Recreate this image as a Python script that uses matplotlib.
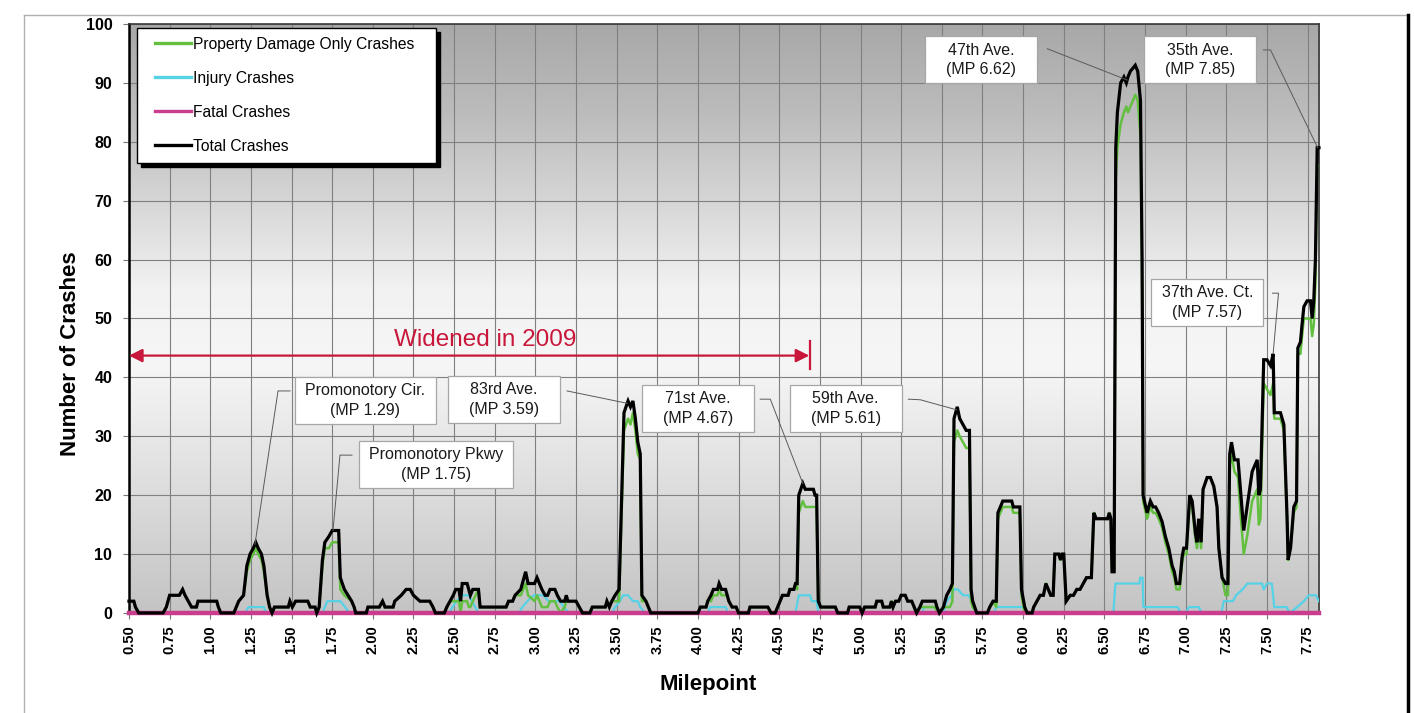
import numpy as np
import matplotlib.pyplot as plt
from matplotlib.colors import LinearSegmentedColormap
from matplotlib.legend_handler import HandlerLine2D
from matplotlib.lines import Line2D
from matplotlib.patches import Rectangle

plt.rcParams['font.family'] = ['Liberation Sans', 'DejaVu Sans']

# (milepoint, crashes)
total_pts = [
    (0.50, 2), (0.53, 2), (0.54, 1), (0.56, 0), (0.71, 0), (0.73, 1), (0.75, 3), (0.81, 3), (0.83, 4),
    (0.845, 3), (0.865, 2), (0.885, 1), (0.915, 1), (0.925, 2), (1.04, 2), (1.05, 1), (1.065, 0),
    (1.145, 0), (1.16, 1), (1.175, 2), (1.205, 3), (1.225, 8), (1.245, 10), (1.265, 11), (1.28, 12),
    (1.295, 11), (1.315, 10), (1.33, 8), (1.35, 3), (1.365, 1), (1.38, 0), (1.395, 1), (1.48, 1),
    (1.49, 2), (1.505, 1), (1.525, 2), (1.60, 2), (1.615, 1), (1.645, 1), (1.655, 0), (1.67, 1),
    (1.69, 9), (1.705, 12), (1.73, 13), (1.75, 14), (1.79, 14), (1.80, 6), (1.825, 4), (1.87, 2),
    (1.885, 1), (1.895, 0), (1.96, 0), (1.97, 1), (2.04, 1), (2.06, 2), (2.075, 1), (2.125, 1),
    (2.135, 2), (2.175, 3), (2.205, 4), (2.23, 4), (2.25, 3), (2.29, 2), (2.35, 2), (2.37, 1),
    (2.385, 0), (2.44, 0), (2.455, 1), (2.475, 2), (2.495, 3), (2.51, 4), (2.53, 4), (2.54, 2),
    (2.55, 5), (2.58, 5), (2.59, 4), (2.60, 3), (2.615, 4), (2.65, 4), (2.66, 1), (2.82, 1),
    (2.835, 2), (2.86, 2), (2.875, 3), (2.91, 4), (2.94, 7), (2.955, 5), (2.995, 5), (3.01, 6),
    (3.025, 5), (3.04, 4), (3.06, 3), (3.075, 3), (3.09, 4), (3.12, 4), (3.135, 3), (3.155, 2),
    (3.18, 2), (3.19, 3), (3.20, 2), (3.25, 2), (3.27, 1), (3.29, 0), (3.335, 0), (3.35, 1),
    (3.43, 1), (3.44, 2), (3.455, 1), (3.47, 2), (3.49, 3), (3.515, 4), (3.545, 34), (3.57, 36),
    (3.585, 35), (3.60, 36), (3.615, 33), (3.63, 29), (3.645, 27), (3.655, 3), (3.68, 2),
    (3.695, 1), (3.71, 0), (4.00, 0), (4.015, 1), (4.05, 1), (4.06, 2), (4.08, 3), (4.095, 4),
    (4.12, 4), (4.13, 5), (4.145, 4), (4.17, 4), (4.18, 3), (4.19, 2), (4.21, 1), (4.235, 1),
    (4.25, 0), (4.31, 0), (4.32, 1), (4.43, 1), (4.45, 0), (4.475, 0), (4.49, 1), (4.505, 2),
    (4.52, 3), (4.555, 3), (4.565, 4), (4.59, 4), (4.60, 5), (4.61, 5), (4.62, 20), (4.645, 22),
    (4.66, 21), (4.71, 21), (4.72, 20), (4.73, 20), (4.74, 2), (4.755, 1), (4.845, 1), (4.86, 0),
    (4.92, 0), (4.93, 1), (4.995, 1), (5.01, 0), (5.025, 1), (5.09, 1), (5.10, 2), (5.13, 2),
    (5.14, 1), (5.18, 1), (5.19, 2), (5.20, 1), (5.215, 2), (5.235, 2), (5.25, 3), (5.275, 3),
    (5.29, 2), (5.315, 2), (5.33, 1), (5.345, 0), (5.365, 1), (5.38, 2), (5.46, 2), (5.47, 1),
    (5.485, 0), (5.51, 1), (5.53, 3), (5.55, 4), (5.565, 5), (5.575, 33), (5.595, 35), (5.61, 33),
    (5.63, 32), (5.65, 31), (5.67, 31), (5.68, 4), (5.69, 2), (5.715, 0), (5.78, 0), (5.795, 1),
    (5.815, 2), (5.835, 2), (5.845, 17), (5.875, 19), (5.93, 19), (5.94, 18), (5.98, 18),
    (5.99, 4), (6.01, 1), (6.025, 0), (6.055, 0), (6.065, 1), (6.085, 2), (6.105, 3), (6.125, 3),
    (6.14, 5), (6.155, 4), (6.17, 3), (6.185, 3), (6.195, 10), (6.22, 10), (6.23, 9), (6.24, 10),
    (6.25, 10), (6.265, 2), (6.29, 3), (6.31, 3), (6.33, 4), (6.35, 4), (6.37, 5), (6.39, 6),
    (6.42, 6), (6.435, 17), (6.45, 16), (6.52, 16), (6.53, 17), (6.54, 16), (6.547, 7), (6.56, 7),
    (6.57, 79), (6.58, 85), (6.60, 90), (6.62, 91), (6.635, 90), (6.645, 91), (6.66, 92),
    (6.675, 92.5), (6.69, 93), (6.705, 92), (6.722, 87), (6.732, 60), (6.738, 20), (6.763, 17),
    (6.783, 19), (6.80, 18), (6.815, 18), (6.834, 17), (6.855, 15.5), (6.875, 13), (6.896, 11),
    (6.917, 8), (6.93, 7), (6.943, 5), (6.963, 5), (6.978, 9.5), (6.988, 11), (7.005, 11),
    (7.025, 20), (7.04, 19), (7.06, 13.5), (7.07, 12), (7.08, 16), (7.095, 12), (7.107, 21),
    (7.132, 23), (7.152, 23), (7.173, 21.5), (7.193, 18), (7.204, 11), (7.224, 6), (7.245, 5),
    (7.26, 5), (7.271, 27), (7.282, 29), (7.30, 26), (7.322, 26), (7.337, 21), (7.357, 14),
    (7.378, 18), (7.409, 24), (7.44, 26), (7.45, 20), (7.46, 21), (7.48, 43), (7.50, 43),
    (7.522, 42), (7.538, 44), (7.545, 34), (7.563, 34), (7.583, 34), (7.604, 32), (7.624, 16),
    (7.63, 9), (7.645, 11), (7.665, 18), (7.682, 19), (7.69, 45), (7.706, 46), (7.716, 49),
    (7.727, 52), (7.747, 53), (7.768, 53), (7.778, 50), (7.788, 53), (7.798, 60), (7.809, 79),
    (7.82, 79),
]

pdo_pts = [
    (0.50, 2), (0.53, 2), (0.54, 1), (0.56, 0), (0.71, 0), (0.73, 1), (0.75, 3), (0.81, 3), (0.83, 4),
    (0.845, 3), (0.865, 2), (0.885, 1), (0.915, 1), (0.925, 2), (1.04, 2), (1.05, 1), (1.065, 0),
    (1.145, 0), (1.16, 1), (1.175, 2), (1.205, 3), (1.225, 7), (1.245, 9), (1.265, 10), (1.28, 11),
    (1.295, 10), (1.315, 9), (1.33, 7), (1.35, 3), (1.365, 1), (1.38, 0), (1.395, 1), (1.48, 1),
    (1.49, 2), (1.505, 1), (1.525, 2), (1.60, 2), (1.615, 1), (1.645, 1), (1.655, 0), (1.67, 1),
    (1.69, 8), (1.705, 11), (1.73, 11), (1.75, 12), (1.79, 12), (1.80, 4), (1.825, 3), (1.87, 2),
    (1.885, 1), (1.895, 0), (1.96, 0), (1.97, 1), (2.04, 1), (2.06, 2), (2.075, 1), (2.125, 1),
    (2.135, 2), (2.175, 3), (2.205, 4), (2.23, 4), (2.25, 3), (2.29, 2), (2.35, 2), (2.37, 1),
    (2.385, 0), (2.44, 0), (2.455, 1), (2.475, 2), (2.495, 2), (2.51, 2), (2.53, 2), (2.54, 0),
    (2.55, 2), (2.58, 2), (2.59, 1), (2.60, 1), (2.615, 2), (2.65, 4), (2.66, 1), (2.82, 1),
    (2.835, 2), (2.86, 2), (2.875, 3), (2.91, 3), (2.94, 5), (2.955, 3), (2.995, 2), (3.01, 3),
    (3.025, 2), (3.04, 1), (3.06, 1), (3.075, 1), (3.09, 2), (3.12, 2), (3.135, 1), (3.155, 0),
    (3.18, 1), (3.19, 2), (3.20, 2), (3.25, 2), (3.27, 1), (3.29, 0), (3.335, 0), (3.35, 1),
    (3.43, 1), (3.44, 2), (3.455, 1), (3.47, 2), (3.49, 2), (3.515, 2), (3.545, 31), (3.57, 33),
    (3.585, 32), (3.60, 34), (3.615, 31), (3.63, 27), (3.645, 26), (3.655, 2), (3.68, 2),
    (3.695, 1), (3.71, 0), (4.00, 0), (4.015, 1), (4.05, 1), (4.06, 2), (4.08, 2), (4.095, 3),
    (4.12, 3), (4.13, 4), (4.145, 3), (4.17, 3), (4.18, 3), (4.19, 2), (4.21, 1), (4.235, 1),
    (4.25, 0), (4.31, 0), (4.32, 1), (4.43, 1), (4.45, 0), (4.475, 0), (4.49, 1), (4.505, 2),
    (4.52, 3), (4.555, 3), (4.565, 4), (4.59, 4), (4.60, 5), (4.61, 4), (4.62, 17), (4.645, 19),
    (4.66, 18), (4.71, 18), (4.72, 18), (4.73, 18), (4.74, 2), (4.755, 1), (4.845, 1), (4.86, 0),
    (4.92, 0), (4.93, 1), (4.995, 1), (5.01, 0), (5.025, 1), (5.09, 1), (5.10, 2), (5.13, 2),
    (5.14, 1), (5.18, 1), (5.19, 2), (5.20, 1), (5.215, 2), (5.235, 2), (5.25, 3), (5.275, 3),
    (5.29, 2), (5.315, 2), (5.33, 1), (5.345, 0), (5.365, 1), (5.38, 1), (5.46, 1), (5.47, 0),
    (5.485, 0), (5.51, 1), (5.53, 1), (5.55, 1), (5.565, 2), (5.575, 29), (5.595, 31), (5.61, 30),
    (5.63, 29), (5.65, 28), (5.67, 28), (5.68, 2), (5.69, 1), (5.715, 0), (5.78, 0), (5.795, 1),
    (5.815, 2), (5.835, 1), (5.845, 16), (5.875, 18), (5.93, 18), (5.94, 17), (5.98, 17),
    (5.99, 3), (6.01, 0), (6.025, 0), (6.055, 0), (6.065, 1), (6.085, 2), (6.105, 3), (6.125, 3),
    (6.14, 5), (6.155, 4), (6.17, 3), (6.185, 3), (6.195, 10), (6.22, 10), (6.23, 9), (6.24, 10),
    (6.25, 10), (6.265, 2), (6.29, 3), (6.31, 3), (6.33, 4), (6.35, 4), (6.37, 5), (6.39, 6),
    (6.42, 6), (6.435, 17), (6.45, 16), (6.52, 16), (6.53, 17), (6.54, 16), (6.547, 7), (6.56, 7),
    (6.57, 74), (6.58, 79), (6.60, 83), (6.62, 85), (6.635, 86), (6.645, 85), (6.66, 86),
    (6.675, 87), (6.69, 88), (6.705, 87), (6.722, 81), (6.732, 55), (6.738, 19), (6.763, 16),
    (6.783, 18), (6.80, 17), (6.815, 17), (6.834, 16), (6.855, 14.5), (6.875, 12), (6.896, 10),
    (6.917, 7), (6.93, 6), (6.943, 4), (6.963, 4), (6.978, 8.5), (6.988, 10), (7.005, 10),
    (7.025, 19), (7.04, 18), (7.06, 12.5), (7.07, 11), (7.08, 15), (7.095, 11), (7.107, 21),
    (7.132, 23), (7.152, 23), (7.173, 21.5), (7.193, 18), (7.204, 11), (7.224, 6), (7.245, 3),
    (7.26, 3), (7.271, 25), (7.282, 27), (7.30, 24), (7.322, 23), (7.337, 17), (7.357, 10),
    (7.378, 13), (7.409, 19), (7.44, 21), (7.45, 15), (7.46, 16), (7.48, 39), (7.50, 38),
    (7.522, 37), (7.538, 39), (7.545, 33), (7.563, 33), (7.583, 33), (7.604, 31), (7.624, 15),
    (7.63, 9), (7.645, 11), (7.665, 17), (7.682, 18), (7.69, 44), (7.706, 44), (7.716, 47),
    (7.727, 50), (7.747, 50), (7.768, 50), (7.778, 47), (7.788, 49), (7.798, 56), (7.809, 76),
    (7.82, 76),
]

injury_pts = [
    (0.50, 0), (1.215, 0), (1.235, 1), (1.33, 1), (1.345, 0), (1.69, 0), (1.705, 1), (1.72, 2),
    (1.80, 2), (1.83, 1), (1.855, 0), (2.47, 0), (2.49, 1), (2.515, 2), (2.55, 3), (2.59, 3),
    (2.61, 2), (2.63, 1), (2.65, 0), (2.90, 0), (2.92, 1), (2.95, 2), (2.99, 3), (3.05, 3),
    (3.08, 2), (3.15, 2), (3.175, 1), (3.205, 0), (3.47, 0), (3.49, 1), (3.52, 2), (3.54, 3),
    (3.57, 3), (3.60, 2), (3.63, 2), (3.645, 1), (3.675, 0), (4.06, 0), (4.075, 1), (4.17, 1),
    (4.185, 0), (4.60, 0), (4.62, 3), (4.69, 3), (4.70, 2), (4.73, 2), (4.74, 0), (5.38, 0),
    (5.39, 1), (5.47, 1), (5.48, 0), (5.51, 0), (5.53, 2), (5.56, 3), (5.575, 4), (5.60, 4),
    (5.63, 3), (5.665, 3), (5.685, 2), (5.70, 1), (5.72, 0), (5.82, 0), (5.835, 1), (6.00, 1),
    (6.015, 0), (6.555, 0), (6.568, 5), (6.715, 5), (6.72, 6), (6.735, 6), (6.74, 1), (6.95, 1),
    (6.97, 0), (7.00, 0), (7.02, 1), (7.08, 1), (7.10, 0), (7.22, 0), (7.234, 2), (7.29, 2),
    (7.31, 3), (7.35, 4), (7.38, 5), (7.47, 5), (7.48, 4), (7.50, 5), (7.53, 5), (7.545, 1),
    (7.62, 1), (7.64, 0), (7.686, 1), (7.727, 2), (7.757, 3), (7.80, 3), (7.82, 2),
]

fatal_pts = [(0.50, 0), (7.82, 0)]

total_mp, total_n = map(np.array, zip(*total_pts))
pdo_mp, pdo_n = map(np.array, zip(*pdo_pts))
injury_mp, injury_n = map(np.array, zip(*injury_pts))
fatal_mp, fatal_n = map(np.array, zip(*fatal_pts))

x_ticks = [0.50 + 0.25 * i for i in range(30)]
y_ticks = list(range(0, 101, 10))

# label text, box centre (mp, crashes), leader points, milepoint the leader ends on
callouts = [
    ("Promonotory Cir.\n(MP 1.29)", (1.955, 36.1), [(1.491, 37.7), (1.417, 37.7)], 1.275),
    ("Promonotory Pkwy\n(MP 1.75)", (2.389, 25.2), [(1.872, 26.8), (1.798, 26.8)], 1.755),
    ("83rd Ave.\n(MP 3.59)", (2.808, 36.2), [(3.195, 37.7)], 3.565),
    ("71st Ave.\n(MP 4.67)", (3.998, 34.7), [(4.383, 36.3), (4.445, 36.3)], 4.645),
    ("59th Ave.\n(MP 5.61)", (4.909, 34.7), [(5.294, 36.3), (5.368, 36.2)], 5.590),
    ("47th Ave.\n(MP 6.62)", (5.740, 93.9), [(6.149, 95.8)], 6.640),
    ("35th Ave.\n(MP 7.85)", (7.087, 93.9), [(7.478, 95.6), (7.522, 95.6)], 7.812),
    ("37th Ave. Ct.\n(MP 7.57)", (7.134, 52.7), [(7.534, 54.3), (7.571, 54.3)], 7.538),
]

widened_start, widened_end, widened_level = 0.50, 4.69, 43.7

fig = plt.figure(figsize=(14.14, 7.13), dpi=100)
ax = fig.add_axes([0.0912, 0.1403, 0.8416, 0.8260])

# gradient plot-area background
bg = LinearSegmentedColormap.from_list('bg', [
    (0.00, '#c4c4c4'), (0.12, '#d2d2d2'), (0.25, '#e2e2e2'), (0.42, '#f6f6f6'),
    (0.55, '#f2f2f2'), (0.70, '#d6d6d6'), (0.85, '#bcbcbc'), (1.00, '#a8a8a8')])
ax.imshow(np.linspace(0, 1, 256).reshape(-1, 1), extent=[0.5, 7.82, 0, 100], origin='lower',
          aspect='auto', cmap=bg, zorder=0, interpolation='bicubic')

ax.plot(injury_mp, injury_n, color='#55d2e6', lw=1.6, zorder=3, label='Injury Crashes')
ax.plot(pdo_mp, pdo_n, color='#62bf3f', lw=1.8, zorder=4, label='Property Damage Only Crashes')
ax.plot(fatal_mp, fatal_n, color='#c93c8e', lw=3.2, zorder=5, clip_on=False, label='Fatal Crashes')
ax.plot(total_mp, total_n, color='black', lw=2.3, zorder=6, clip_on=False,
        solid_joinstyle='miter', label='Total Crashes')

ax.set_xlim(0.5, 7.82)
ax.set_ylim(0, 100)
ax.set_xticks(x_ticks)
ax.set_xticklabels([f"{t:.2f}" for t in x_ticks], rotation=90, fontsize=10.5, fontweight='bold')
ax.set_yticks(y_ticks)
ax.set_yticklabels([str(t) for t in y_ticks], fontsize=11.5, fontweight='bold')
ax.tick_params(axis='both', length=4, color='#777777', pad=5)
ax.tick_params(axis='y', pad=8)
ax.grid(True, color='#808080', lw=0.8)
for side in ['top', 'right', 'bottom']:
    ax.spines[side].set_color('#3a3a3a')
    ax.spines[side].set_linewidth(1.2)
ax.spines['left'].set_linewidth(1.8)

ax.set_xlabel('Milepoint', fontsize=16, fontweight='bold')
ax.xaxis.set_label_coords(0.487, -0.104)
ax.set_ylabel('Number of Crashes', fontsize=16, fontweight='bold')
ax.yaxis.set_label_coords(-0.040, 0.44)

# legend in the reference order
h, l = ax.get_legend_handles_labels()
order = ['Property Damage Only Crashes', 'Injury Crashes', 'Fatal Crashes', 'Total Crashes']
hs = [h[l.index(name)] for name in order]
leg_handles = [Line2D([], [], color=x.get_color(), lw=2.4) for x in hs]
leg_labels = [order[0] + '   '] + order[1:]
leg = ax.legend(leg_handles, leg_labels, loc='upper left', bbox_to_anchor=(0.0067, 0.993),
                fontsize=11.25, frameon=True, fancybox=False, framealpha=1, edgecolor='black',
                borderpad=0.55, labelspacing=1.22, handlelength=2.9, handletextpad=0.15,
                borderaxespad=0, handler_map={Line2D: HandlerLine2D(xpad=0.6)},
                shadow={'ox': 3, 'oy': -3, 'facecolor': 'black', 'edgecolor': 'black', 'alpha': 1})
leg.get_frame().set_linewidth(1.0)
leg.set_zorder(10)

# widened segment arrow
red = '#c8173a'
ax.annotate('', xy=(widened_start, widened_level), xytext=(widened_end - 0.005, widened_level),
            arrowprops=dict(arrowstyle='<|-|>', color=red, lw=1.6, mutation_scale=20,
                            shrinkA=0, shrinkB=0), zorder=7)
ax.plot([widened_end, widened_end], [widened_level - 2.3, widened_level + 2.4], color=red, lw=1.6,
        zorder=7)
ax.text(2.69, 45.4, 'Widened in 2009', color=red, fontsize=17.5, ha='center', va='baseline', zorder=7)

# callout labels with leader lines
texts = []
for text, (cx, cy), pts, target in callouts:
    t = ax.text(cx, cy, text, ha='center', va='center', fontsize=11.5, color='#1a1a1a',
                linespacing=1.4, zorder=9)
    texts.append(t)
    end_y = np.interp(target, total_mp, total_n)
    xs = [p[0] for p in pts] + [target]
    ys = [p[1] for p in pts] + [end_y]
    ax.plot(xs, ys, color='#5a5a5a', lw=0.7, zorder=7)

fig.canvas.draw()
renderer = fig.canvas.get_renderer()
inv = ax.transData.inverted()
for t, (text, (cx, cy), pts, target) in zip(texts, callouts):
    bb = t.get_window_extent(renderer)
    w = max(bb.width + 20, 112)
    hgt = 47
    px, py = ax.transData.transform((cx, cy))
    (x0, y0), (x1, y1) = inv.transform([(px - w / 2, py - hgt / 2), (px + w / 2, py + hgt / 2)])
    ax.add_patch(Rectangle((x0, y0), x1 - x0, y1 - y0, facecolor='white', edgecolor='#a6a6a6',
                           lw=0.9, zorder=8))

# page frame around the figure
fig.add_artist(Line2D([0.017, 0.017], [0, 0.979], color='#b0b0b0', lw=1.0))
fig.add_artist(Line2D([0.017, 0.996], [0.979, 0.979], color='#b0b0b0', lw=1.0))
fig.add_artist(Line2D([0.9958, 0.9958], [0, 0.979], color='black', lw=2.5))

fig.savefig('out.png', dpi=100)
